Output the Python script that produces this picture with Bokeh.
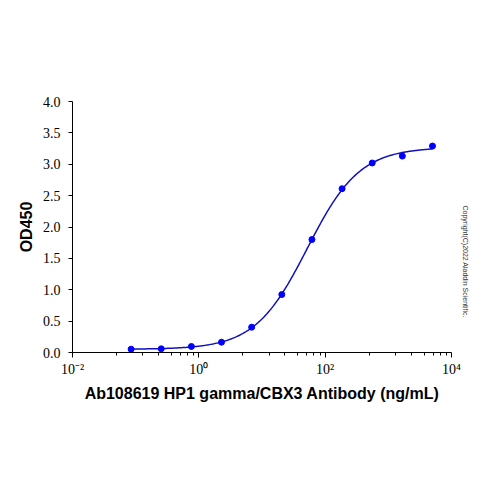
import numpy as np
from bokeh.plotting import figure
from bokeh.models import FixedTicker, Title
from bokeh.embed import file_html
from bokeh.resources import INLINE

# Data (3-fold dilution series)
conc_ng_ml = [0.0847, 0.254, 0.762, 2.286, 6.859, 20.58, 61.73, 185.2, 555.6, 1666.7, 5000.0]
od450 = [0.053, 0.059, 0.096, 0.164, 0.403, 0.924, 1.80, 2.61, 3.02, 3.13, 3.29]

x_major_ticks = [0.01, 1, 100, 10000]
x_major_labels = ["10\u207b\u00b2", "10\u2070", "10\u00b2", "10\u2074"]
minor_fracs = [0.05, 0.13, 0.23, 0.37, 0.51, 0.66, 0.83]
y_ticks = [0.0, 0.5, 1.0, 1.5, 2.0, 2.5, 3.0, 3.5, 4.0]

x_title = "Ab108619 HP1 gamma/CBX3 Antibody (ng/mL)"
y_title = "OD450"
copyright_text = "Copyright(C)2022 Aladdin Scientific."

# ---- 4PL least-squares fit of the data (Levenberg-Marquardt) ----
lx = np.log10(np.array(conc_ng_ml))
yy = np.array(od450)


def fourpl(par, l):
    b, t, c, h = par
    return b + (t - b) / (1.0 + 10.0 ** ((c - l) * h))


par = np.array([yy.min(), yy.max(), np.median(lx), 1.0])
lam = 1e-2
for _ in range(500):
    r = yy - fourpl(par, lx)
    J = np.zeros((len(lx), 4))
    for k in range(4):
        d = np.zeros(4)
        d[k] = 1e-6
        J[:, k] = (fourpl(par + d, lx) - fourpl(par - d, lx)) / 2e-6
    A = J.T @ J
    g = J.T @ r
    step = np.linalg.solve(A + lam * np.diag(np.diag(A)), g)
    new = par + step
    if np.sum((yy - fourpl(new, lx)) ** 2) < np.sum(r ** 2):
        par = new
        lam *= 0.5
    else:
        lam *= 4
curve_lx = np.linspace(lx.min(), lx.max(), 300)
curve_x = 10 ** curve_lx
curve_y = fourpl(par, curve_lx)

# ---- figure ----
p = figure(
    x_axis_type="log",
    x_range=(x_major_ticks[0], x_major_ticks[-1]),
    y_range=(y_ticks[0], y_ticks[-1]),
    frame_width=379, frame_height=251,
    min_border_left=72, min_border_right=40,
    min_border_top=101, min_border_bottom=130,
    output_backend="svg", toolbar_location=None,
)
p.outline_line_color = None
p.xgrid.visible = False
p.ygrid.visible = False
p.background_fill_color = "white"
p.border_fill_color = "white"

p.line(curve_x, curve_y, line_color="#1010C0", line_width=1.5)
p.scatter(conc_ng_ml, od450, size=6, fill_color="#0000FF", line_color="#0000FF")

minor = [f * up for up in x_major_ticks[1:] for f in minor_fracs]
xa = p.xaxis[0]
xa.ticker = FixedTicker(ticks=x_major_ticks, minor_ticks=minor)
xa.major_label_overrides = {t: s for t, s in zip(x_major_ticks, x_major_labels)}
xa.axis_label = x_title
xa.axis_label_text_font = "Liberation Sans"
xa.axis_label_text_font_style = "bold"
xa.axis_label_text_font_size = "16px"
xa.axis_label_text_color = "black"
xa.axis_label_standoff = 5
xa.major_label_text_font = "Liberation Serif"
xa.major_label_text_font_size = "14px"
xa.major_label_text_color = "black"
xa.major_label_standoff = 4
xa.major_tick_out = 5
xa.major_tick_in = 0
xa.minor_tick_out = 3
xa.minor_tick_in = 0
xa.axis_line_color = "black"
xa.major_tick_line_color = "black"
xa.minor_tick_line_color = "black"

ya = p.yaxis[0]
ya.ticker = FixedTicker(ticks=y_ticks)
ya.major_label_overrides = {t: "%.1f" % t for t in y_ticks}
ya.axis_label = y_title
ya.axis_label_text_font = "Liberation Sans"
ya.axis_label_text_font_style = "bold"
ya.axis_label_text_font_size = "16px"
ya.axis_label_text_color = "black"
ya.axis_label_standoff = 5
ya.major_label_text_font = "Liberation Serif"
ya.major_label_text_font_size = "14px"
ya.major_label_text_color = "black"
ya.major_label_standoff = 8
ya.major_tick_out = 4
ya.major_tick_in = 0
ya.minor_tick_line_color = None
ya.axis_line_color = "black"
ya.major_tick_line_color = "black"

p.add_layout(Title(
    text=copyright_text, align="left", offset=104, standoff=20,
    text_font="Liberation Sans", text_font_size="7px", text_font_style="normal",
    text_color="#333333",
), "right")

open("out.html", "w").write(file_html(p, INLINE))
